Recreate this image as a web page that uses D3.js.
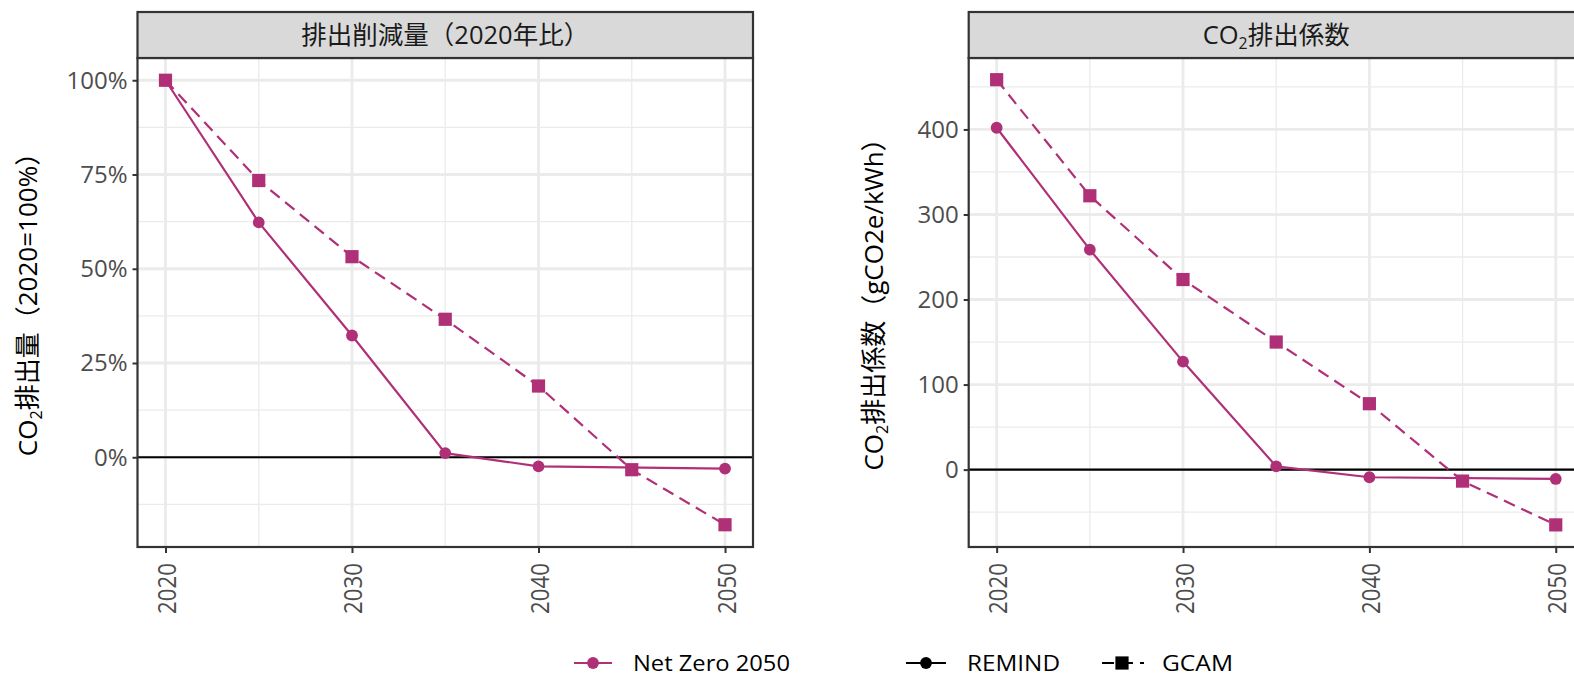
<!DOCTYPE html>
<html><head><meta charset="utf-8">
<script src="https://cdn.jsdelivr.net/npm/d3@7"></script>
<style>body{margin:0;background:#fff}text{font-family:"Open Sans","Noto Sans CJK JP",sans-serif}</style>
</head><body><svg id="c" width="1574" height="678"></svg>
<script>
const years=[2020,2025,2030,2035,2040,2045,2050];
const remindPct=[100,62.3,32.3,1.1,-2.4,null,-3.0];
const gcamPct=[100,73.4,53.2,36.6,18.9,-3.3,-17.9];
const remindEF=[402,258.6,127,3.8,-9,null,-11];
const gcamEF=[458.5,322,223.5,150,77.5,-13.5,-65];
const xTicks=[2020,2030,2040,2050];
const xMinor=[2025,2035,2045];
const pctTicks=[0,25,50,75,100];
const pctMinor=[-12.5,12.5,37.5,62.5,87.5];
const efTicks=[0,100,200,300,400];
const efMinor=[-50,50,150,250,350,450];
const panelTitles=["排出削減量（2020年比）",["CO","2","排出係数"]];
const yTitles=[["CO","2","排出量（2020=100%）"],["CO","2","排出係数（gCO2e/kWh）"]];
const scenario="Net Zero 2050";
const models=["REMIND","GCAM"];
const COL="#B03078";

const svg=d3.select("#c");
const pTop=58,pBottom=547,stripTop=12;

function addRich(sel,parts,size){
  sel.append("tspan").text(parts[0]);
  sel.append("tspan").text(parts[1]).attr("font-size",size*0.62).attr("dy",size*0.18);
  sel.append("tspan").text(parts[2]).attr("dy",-size*0.18);
}

function panel(opts){
  const {x0,x1,yDom,ticks,minor,fmt,title,ytitle,ytx,remind,gcam}=opts;
  const x=d3.scaleLinear().domain([2018.5,2051.5]).range([x0,x1]);
  const y=d3.scaleLinear().domain(yDom).range([pBottom,pTop]);
  const g=svg.append("g");
  const clip="clip"+Math.round(x0);
  svg.append("clipPath").attr("id",clip).append("rect").attr("x",x0).attr("y",pTop).attr("width",x1-x0).attr("height",pBottom-pTop);
  const pg=g.append("g").attr("clip-path",`url(#${clip})`);
  pg.selectAll(".ymn").data(minor).join("line").attr("x1",x0).attr("x2",x1).attr("y1",d=>y(d)).attr("y2",d=>y(d)).attr("stroke","#EBEBEB").attr("stroke-width",1.3);
  pg.selectAll(".xmn").data(xMinor).join("line").attr("y1",pTop).attr("y2",pBottom).attr("x1",d=>x(d)).attr("x2",d=>x(d)).attr("stroke","#EBEBEB").attr("stroke-width",1.3);
  pg.selectAll(".ymj").data(ticks).join("line").attr("x1",x0).attr("x2",x1).attr("y1",d=>y(d)).attr("y2",d=>y(d)).attr("stroke","#EBEBEB").attr("stroke-width",2.8);
  pg.selectAll(".xmj").data(xTicks).join("line").attr("y1",pTop).attr("y2",pBottom).attr("x1",d=>x(d)).attr("x2",d=>x(d)).attr("stroke","#EBEBEB").attr("stroke-width",2.8);
  pg.append("line").attr("x1",x0).attr("x2",x1).attr("y1",y(0)).attr("y2",y(0)).attr("stroke","#000").attr("stroke-width",2.2);
  const rem=years.map((yr,i)=>({yr,v:remind[i]})).filter(d=>d.v!==null);
  const gc=years.map((yr,i)=>({yr,v:gcam[i]})).filter(d=>d.v!==null);
  const line=d3.line().x(d=>x(d.yr)).y(d=>y(d.v));
  pg.append("path").datum(gc).attr("d",line).attr("fill","none").attr("stroke",COL).attr("stroke-width",2.2).attr("stroke-dasharray","12,7");
  pg.append("path").datum(rem).attr("d",line).attr("fill","none").attr("stroke",COL).attr("stroke-width",2.2);
  pg.selectAll(".pt").data(rem).join("circle").attr("cx",d=>x(d.yr)).attr("cy",d=>y(d.v)).attr("r",5.9).attr("fill",COL);
  pg.selectAll(".sq").data(gc).join("rect").attr("x",d=>x(d.yr)-6.6).attr("y",d=>y(d.v)-6.6).attr("width",13.2).attr("height",13.2).attr("fill",COL);
  g.append("rect").attr("x",x0).attr("y",pTop).attr("width",x1-x0).attr("height",pBottom-pTop).attr("fill","none").attr("stroke","#333").attr("stroke-width",2.2);
  g.append("rect").attr("x",x0).attr("y",stripTop).attr("width",x1-x0).attr("height",pTop-stripTop).attr("fill","#D9D9D9").attr("stroke","#333").attr("stroke-width",2.2);
  const st=g.append("text").attr("x",(x0+x1)/2).attr("y",(pTop+stripTop)/2+9).attr("text-anchor","middle").attr("font-size",25.5).attr("fill","#1A1A1A");
  if(typeof title==="string") st.text(title); else addRich(st,title,25.5);
  const ya=d3.axisLeft(y).tickValues(ticks).tickFormat(fmt).tickSize(5).tickPadding(5);
  const yg=g.append("g").attr("transform",`translate(${x0},0)`).call(ya);
  yg.select(".domain").remove();
  yg.selectAll(".tick line").attr("stroke","#333").attr("stroke-width",2);
  yg.selectAll(".tick text").attr("font-size",24).attr("fill","#4D4D4D").attr("font-family","Open Sans").attr("dy","0.33em");
  const xa=d3.axisBottom(x).tickValues(xTicks).tickFormat(d3.format("d")).tickSize(6).tickPadding(6);
  const xg=g.append("g").attr("transform",`translate(0,${pBottom})`).call(xa);
  xg.select(".domain").remove();
  xg.selectAll(".tick line").attr("stroke","#333").attr("stroke-width",2);
  xg.selectAll(".tick text").attr("font-size",25).attr("fill","#4D4D4D").attr("font-family","Open Sans")
    .attr("transform","rotate(-90)").attr("text-anchor","end").attr("x",-16).attr("y",0).attr("dy","0.4em")
    .attr("textLength",51).attr("lengthAdjust","spacingAndGlyphs");
  const yt=g.append("text").attr("transform",`translate(${ytx},298) rotate(-90)`).attr("text-anchor","middle")
    .attr("font-size",26).attr("fill","#000").attr("font-family","Noto Sans CJK JP").attr("dy","0.35em");
  addRich(yt,ytitle,26);
}

panel({x0:137.5,x1:753,yDom:[-23.8,105.9],ticks:pctTicks,minor:pctMinor,fmt:d=>d+"%",title:panelTitles[0],ytitle:yTitles[0],ytx:28,remind:remindPct,gcam:gcamPct});
panel({x0:968.7,x1:1583.7,yDom:[-91,484],ticks:efTicks,minor:efMinor,fmt:d3.format("d"),title:panelTitles[1],ytitle:yTitles[1],ytx:874,remind:remindEF,gcam:gcamEF});

const ly=663;
const lg=svg.append("g");
lg.append("line").attr("x1",574).attr("x2",612).attr("y1",ly).attr("y2",ly).attr("stroke",COL).attr("stroke-width",2.2);
lg.append("circle").attr("cx",593).attr("cy",ly).attr("r",5.9).attr("fill",COL);
lg.append("text").attr("x",633).attr("y",ly).attr("dy","0.36em").attr("font-size",22).attr("textLength",157).attr("lengthAdjust","spacingAndGlyphs").text(scenario);
lg.append("line").attr("x1",906).attr("x2",946).attr("y1",ly).attr("y2",ly).attr("stroke","#000").attr("stroke-width",2.2);
lg.append("circle").attr("cx",926).attr("cy",ly).attr("r",5.9).attr("fill","#000");
lg.append("text").attr("x",967).attr("y",ly).attr("dy","0.36em").attr("font-size",22).attr("textLength",93).attr("lengthAdjust","spacingAndGlyphs").text(models[0]);
lg.append("line").attr("x1",1102).attr("x2",1144).attr("y1",ly).attr("y2",ly).attr("stroke","#000").attr("stroke-width",2.2).attr("stroke-dasharray","12,7");
lg.append("rect").attr("x",1115.4).attr("y",ly-6.6).attr("width",13.2).attr("height",13.2).attr("fill","#000");
lg.append("text").attr("x",1162).attr("y",ly).attr("dy","0.36em").attr("font-size",22).attr("textLength",71).attr("lengthAdjust","spacingAndGlyphs").text(models[1]);
</script></body></html>
